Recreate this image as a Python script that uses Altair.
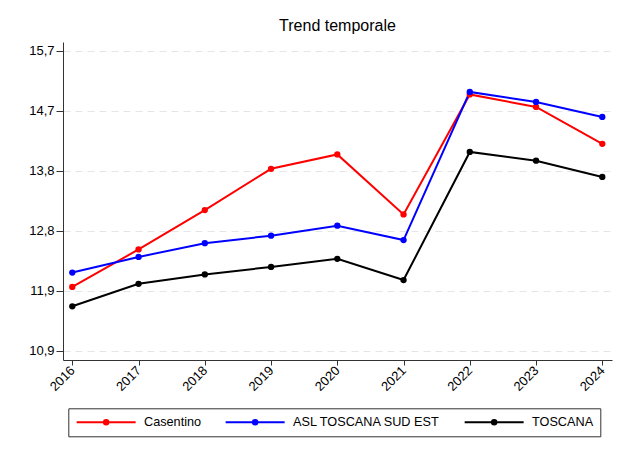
import altair as alt
import pandas as pd

years = [2016, 2017, 2018, 2019, 2020, 2021, 2022, 2023, 2024]
series_names = ["Casentino", "ASL TOSCANA SUD EST", "TOSCANA"]
casentino = [11.92, 12.52, 13.15, 13.81, 14.04, 13.08, 15.00, 14.80, 14.21]
asl_sud_est = [12.15, 12.40, 12.62, 12.74, 12.90, 12.67, 15.04, 14.88, 14.64]
toscana = [11.61, 11.97, 12.12, 12.24, 12.37, 12.03, 14.08, 13.94, 13.68]
colors = ["#ff0000", "#0000ff", "#000000"]
y_ticks = [10.9, 11.86, 12.82, 13.78, 14.74, 15.7]

rows = []
for name, vals in zip(series_names, [casentino, asl_sud_est, toscana]):
    for yr, v in zip(years, vals):
        rows.append({"anno": yr, "valore": v, "serie": name})
df = pd.DataFrame(rows)

FONT = "Liberation Sans"

# legend symbol: 59px line with a dot in the middle (symbol size 100 -> 5px per unit)
sym_path = "M-1,0L10.8,0M5.35,0A0.45,0.45,0,1,1,4.45,0A0.45,0.45,0,1,1,5.35,0Z"

x_enc = alt.X(
    "anno:Q",
    scale=alt.Scale(domain=[2015.8596, 2024.1464], nice=False, zero=False),
    axis=alt.Axis(
        values=years, format="d", title=None, grid=False,
        labelAngle=-45, labelAlign="right", labelBaseline="middle",
        labelFontSize=13, labelFont=FONT, labelColor="black",
        tickSize=5, tickColor="#333333", domainColor="#333333",
        labelPadding=3, labelFlush=False, labelOverlap=False,
    ),
)
y_enc = alt.Y(
    "valore:Q",
    scale=alt.Scale(domain=[10.751, 15.839], nice=False, zero=False),
    axis=alt.Axis(
        values=y_ticks, title=None,
        labelExpr="replace(format(datum.value, '.1f'), '.', ',')",
        labelFontSize=13, labelFont=FONT, labelColor="black",
        tickSize=7, tickColor="#333333", domainColor="#333333",
        labelPadding=2,
        grid=True, gridColor="#e6e6e6", gridDash=[7, 5], gridWidth=1,
    ),
)
color_scale = alt.Scale(domain=series_names, range=colors)

legend = alt.Legend(
    title=None, orient="none", legendX=5.3, legendY=366.3,
    direction="horizontal", columns=3, columnPadding=20,
    symbolType=sym_path, symbolSize=100, symbolStrokeWidth=2,
    labelOffset=56, labelFontSize=12.7, labelFont=FONT, labelColor="black",
    labelLimit=300, symbolOpacity=1,
    strokeColor="#333333", padding=7,
)

lines = alt.Chart(df).mark_line(strokeWidth=2).encode(
    x=x_enc, y=y_enc,
    color=alt.Color("serie:N", scale=color_scale, sort=series_names, legend=legend),
)
points = alt.Chart(df).mark_circle(size=40, opacity=1).encode(
    x=x_enc, y=y_enc,
    color=alt.Color("serie:N", scale=color_scale, sort=series_names, legend=None),
)

chart = (lines + points).properties(
    width=549, height=318,
    title=alt.Title("Trend temporale", fontSize=16, font=FONT, fontWeight="normal",
                    color="black", anchor="middle", offset=8),
    padding={"left": 55, "top": 34, "right": 11, "bottom": 91},
    autosize=alt.AutoSizeParams(type="none"),
    background="white",
).configure_view(stroke=None)

chart.save("out.html", embed_options={"renderer": "svg", "actions": False})
